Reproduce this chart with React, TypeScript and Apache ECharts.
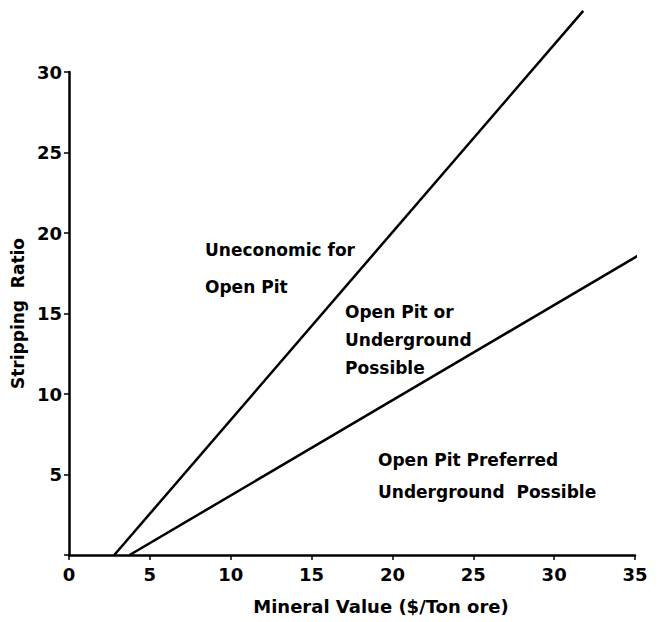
import React, { useEffect, useRef } from "react";
import * as echarts from "echarts";

const xTicks = [0, 5, 10, 15, 20, 25, 30, 35];
const yTicks = [0, 5, 10, 15, 20, 25, 30];
const upperBoundary: [number, number][] = [
  [2.8, 0],
  [31.8, 33.8],
];
const lowerBoundary: [number, number][] = [
  [3.75, 0],
  [35.2, 18.6],
];
const regionLabels = [
  { lines: ["Uneconomic for", "Open Pit"], x: 205, y: 250, lh: 37 },
  { lines: ["Open Pit or", "Underground", "Possible"], x: 345, y: 312, lh: 28 },
  { lines: ["Open Pit Preferred", "Underground  Possible"], x: 378, y: 460, lh: 32 },
];

const FONT = "DejaVu Sans";

export default function App() {
  const ref = useRef<HTMLDivElement>(null);
  useEffect(() => {
    const chart = echarts.init(ref.current!, undefined, { renderer: "svg" });
    const graphics: any[] = [];
    regionLabels.forEach((r) => {
      r.lines.forEach((t, i) => {
        graphics.push({
          type: "text",
          x: r.x,
          y: r.y + i * r.lh,
          style: {
            text: t,
            fill: "#000",
            font: `bold 17px "${FONT}"`,
            verticalAlign: "middle",
          },
        });
      });
    });
    chart.setOption({
      animation: false,
      backgroundColor: "#fff",
      grid: { left: 69, right: 26, top: 72, bottom: 67 },
      xAxis: {
        type: "value",
        min: xTicks[0],
        max: xTicks[xTicks.length - 1],
        interval: 5,
        name: "Mineral Value ($/Ton ore)",
        nameLocation: "middle",
        nameGap: 42,
        nameTextStyle: {
          fontFamily: FONT,
          fontWeight: "bold",
          fontSize: 18,
          color: "#000",
          padding: [0, 0, 0, 58],
        },
        axisLine: { lineStyle: { color: "#000", width: 2.5 } },
        axisTick: { show: true, length: 5, lineStyle: { color: "#000", width: 1.5 } },
        axisLabel: { fontFamily: FONT, fontWeight: "bold", fontSize: 18, color: "#000", margin: 10 },
        splitLine: { show: false },
      },
      yAxis: {
        type: "value",
        min: yTicks[0],
        max: yTicks[yTicks.length - 1],
        interval: 5,
        name: "Stripping  Ratio",
        nameLocation: "middle",
        nameGap: 34,
        nameTextStyle: { fontFamily: FONT, fontWeight: "bold", fontSize: 17, color: "#000" },
        axisLine: { show: true, lineStyle: { color: "#000", width: 2.5 } },
        axisTick: { show: true, length: 5, lineStyle: { color: "#000", width: 1.5 } },
        axisLabel: {
          fontFamily: FONT,
          fontWeight: "bold",
          fontSize: 18,
          color: "#000",
          margin: 7,
          formatter: (v: number) => (v === 0 ? "" : String(v)),
        },
        splitLine: { show: false },
      },
      series: [
        {
          type: "line",
          data: upperBoundary,
          clip: false,
          symbol: "none",
          lineStyle: { color: "#000", width: 2.5 },
        },
        {
          type: "line",
          data: lowerBoundary,
          clip: false,
          symbol: "none",
          lineStyle: { color: "#000", width: 2.5 },
        },
      ],
      graphic: graphics,
    });
    return () => chart.dispose();
  }, []);
  return (
    <div
      ref={ref}
      style={{ position: "absolute", left: 0, top: 0, width: 661, height: 622 }}
    />
  );
}
